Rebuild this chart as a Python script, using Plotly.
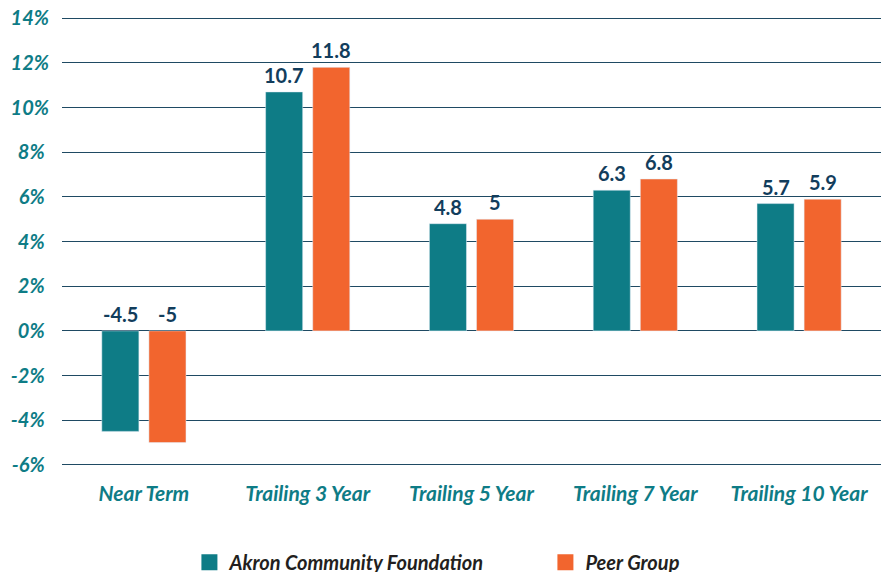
import plotly.graph_objects as go

categories = ["Near Term", "Trailing 3 Year", "Trailing 5 Year", "Trailing 7 Year", "Trailing 10 Year"]
akron = [-4.5, 10.7, 4.8, 6.3, 5.7]
peer = [-5.0, 11.8, 5.0, 6.8, 5.9]
series_names = ["Akron Community Foundation", "Peer Group"]
tick_vals = [-6, -4, -2, 0, 2, 4, 6, 8, 10, 12, 14]
tick_text = [f"{v}%" + ("" if v >= 10 else "\u00a0") for v in tick_vals]

TEAL = "#0e7c86"
ORANGE = "#f2652e"
NAVY = "#123d5c"
GRID = "#1f4a63"

fig = go.Figure()
for name, vals, col in [(series_names[0], akron, TEAL), (series_names[1], peer, ORANGE)]:
    fig.add_trace(go.Bar(x=categories, y=vals, name=name, marker_color=col,
                         showlegend=False, hoverinfo="x+y"))
    # legend proxy
    fig.add_trace(go.Scatter(x=[None], y=[None], mode="markers", name=name,
                             marker=dict(symbol="square", size=16, color=col)))

# value labels
annotations = []
for vals, shift in [(akron, -23.5), (peer, 23.5)]:
    for c, v in zip(categories, vals):
        annotations.append(dict(x=c, y=max(v, 0), xref="x", yref="y", text=f"{v:g}",
                                showarrow=False, yanchor="bottom", xshift=shift, yshift=3,
                                font=dict(family="Lato", size=20, color=NAVY, weight="bold")))

fig.update_layout(
    width=881, height=572,
    margin=dict(l=62, r=0, t=16, b=106),
    paper_bgcolor="white", plot_bgcolor="white",
    barmode="group", bargap=0.425, bargroupgap=0.213,
    annotations=annotations,
    legend=dict(orientation="h", xref="container", yref="container", x=0.215, y=0.051,
                xanchor="left", yanchor="top", entrywidth=311,
                font=dict(family="Lato", size=20, color="#231f20", weight="bold", style="italic")),
    xaxis=dict(showgrid=False, showline=False, ticks="", ticklabelstandoff=13,
               tickfont=dict(family="Lato", size=21, color=TEAL, weight="bold", style="italic")),
    yaxis=dict(range=[-6.05, 14.1], tickvals=tick_vals, ticktext=tick_text,
               showgrid=True, gridcolor=GRID, gridwidth=1.2,
               zeroline=True, zerolinecolor=GRID, zerolinewidth=1.2,
               showline=False, ticks="", ticklabelstandoff=12,
               tickfont=dict(family="Lato", size=20, color=TEAL, weight="bold", style="italic")),
)

fig.write_html("out.html", config={"displayModeBar": False},
               post_script="document.body.style.margin='0px';")
